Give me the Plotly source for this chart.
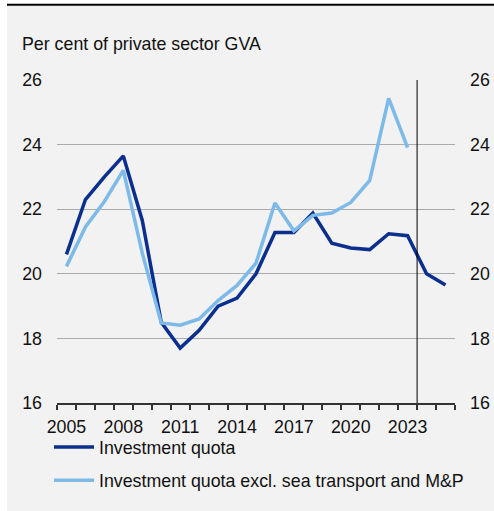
import plotly.graph_objects as go

years = list(range(2005, 2026))
investment_quota = [20.6, 22.3, 23.0, 23.65, 21.65, 18.5, 17.7, 18.25, 19.0, 19.25, 20.0,
                    21.28, 21.28, 21.88, 20.95, 20.8, 20.75, 21.24, 21.18, 20.0, 19.65]
years_excl = list(range(2005, 2024))
investment_quota_excl = [20.23, 21.45, 22.24, 23.2, 20.64, 18.48, 18.41, 18.6, 19.17, 19.64, 20.33,
                         22.19, 21.33, 21.81, 21.88, 22.21, 22.89, 25.43, 23.91]
x_tick_labels = [2005, 2008, 2011, 2014, 2017, 2020, 2023]
y_ticks = [16, 18, 20, 22, 24, 26]
title_text = "Per cent of private sector GVA"
names = ["Investment quota", "Investment quota excl. sea transport and M&P"]

DARK = "#0A2F8F"
LIGHT = "#7DBAE8"
FONT = dict(family="Liberation Sans, Arial, sans-serif", size=17.8, color="#111111")

W, H = 494, 511
L, R, T, B = 57, 455, 80, 403

def px_x(p):
    return (p - L) / (R - L)

def px_y(p):
    return (B - p) / (B - T)

fig = go.Figure()
fig.add_trace(go.Scatter(x=years, y=investment_quota, mode="lines", name=names[0],
                         line=dict(color=DARK, width=3.5), legendgroup="a"))
fig.add_trace(go.Scatter(x=years_excl, y=investment_quota_excl, mode="lines", name=names[1],
                         line=dict(color=LIGHT, width=3.5), legendgroup="b"))
fig.add_trace(go.Scatter(x=[years[0]], y=[y_ticks[0]], mode="lines", yaxis="y2",
                         showlegend=False, hoverinfo="skip", line=dict(width=0)))

fig.update_layout(
    width=W, height=H,
    margin=dict(l=L, r=W - R, t=T, b=H - B, pad=0, autoexpand=False),
    paper_bgcolor="white",
    plot_bgcolor="rgba(0,0,0,0)",
    font=FONT,
    title=dict(text=title_text, x=22 / W, xanchor="left", xref="container",
               y=1 - 44 / H, yanchor="middle", yref="container", font=FONT),
    xaxis=dict(range=[2004.5, 2025.5], tickvals=x_tick_labels, ticks="",
               showgrid=False, zeroline=False, showline=True, linecolor="#333333",
               linewidth=1.5, ticklabelstandoff=7,
               minor=dict(tickvals=[y + 0.5 for y in range(2004, 2026)], ticks="outside",
                          ticklen=5, tickcolor="#333333", tickwidth=1.5, showgrid=False)),
    yaxis=dict(range=[16, 26], tickvals=y_ticks, showgrid=True, gridcolor="#ABABAB",
               gridwidth=1, zeroline=False, showline=False, ticks="",
               ticklabelstandoff=14),
    yaxis2=dict(range=[16, 26], tickvals=y_ticks, overlaying="y", side="right",
                showgrid=False, zeroline=False, showline=False, ticks="",
                ticklabelstandoff=14),
    legend=dict(x=px_x(49), xanchor="left", y=px_y(429), yanchor="top",
                bgcolor="rgba(0,0,0,0)", tracegroupgap=7, font=FONT,
                itemwidth=40),
    shapes=[
        dict(type="rect", xref="paper", yref="paper", x0=px_x(7), x1=px_x(W + 5),
             y0=px_y(H + 5), y1=px_y(6), fillcolor="#F2F2F2", line=dict(width=0),
             layer="below"),
        dict(type="line", xref="paper", yref="paper", x0=px_x(7), x1=px_x(W + 5),
             y0=px_y(4.8), y1=px_y(4.8), line=dict(color="black", width=2)),
        dict(type="line", xref="x", yref="y", x0=2023.5, x1=2023.5, y0=16, y1=26,
             line=dict(color="black", width=1)),
    ],
)

fig.write_html("out.html", config={"displayModeBar": False},
               post_script="document.body.style.margin='0';document.body.style.overflow='hidden';")
